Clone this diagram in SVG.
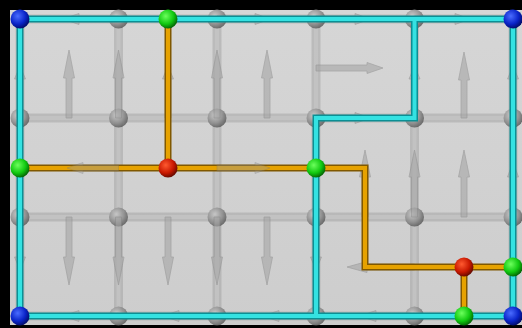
<svg xmlns="http://www.w3.org/2000/svg" width="522" height="328" viewBox="0 0 522 328">
<defs>
<linearGradient id="panel" x1="0" y1="0" x2="0" y2="1"><stop offset="0" stop-color="#d6d6d6"/><stop offset="1" stop-color="#cdcdcd"/></linearGradient>
<radialGradient id="gGray" cx="0.38" cy="0.35" r="0.7"><stop offset="0" stop-color="#c8c8c8"/><stop offset="0.6" stop-color="#8a8a8a"/><stop offset="1" stop-color="#555"/></radialGradient>
<radialGradient id="gBlue" cx="0.38" cy="0.35" r="0.7"><stop offset="0" stop-color="#4a6cff"/><stop offset="0.6" stop-color="#0a24c8"/><stop offset="1" stop-color="#020a60"/></radialGradient>
<radialGradient id="gGreen" cx="0.38" cy="0.35" r="0.7"><stop offset="0" stop-color="#6cff5c"/><stop offset="0.6" stop-color="#10c810"/><stop offset="1" stop-color="#045a04"/></radialGradient>
<radialGradient id="gRed" cx="0.38" cy="0.35" r="0.7"><stop offset="0" stop-color="#ff5a30"/><stop offset="0.6" stop-color="#c81800"/><stop offset="1" stop-color="#5a0800"/></radialGradient>
</defs>
<style>
.bar{fill:none;stroke:#9c9c9c;stroke-width:9;opacity:0.45}
.barIn{fill:none;stroke:#c6c6c6;stroke-width:4;opacity:0.7}
.arr{fill:#a6a6a6;stroke:#888;stroke-width:0.8;opacity:0.6}
.arrT{fill:#9a9a9a;stroke:#777;stroke-width:0.8;opacity:0.4}
.cyO{fill:none;stroke:#0b8f94;stroke-width:7;stroke-linejoin:miter}
.cyI{fill:none;stroke:#34e2e2;stroke-width:4;stroke-linejoin:miter}
.orO{fill:none;stroke:#805800;stroke-width:7;stroke-linejoin:miter}
.orI{fill:none;stroke:#e6a200;stroke-width:4;stroke-linejoin:miter}
.ng{fill:url(#gGray);opacity:0.85}
.nb{fill:url(#gBlue)}
.ngr{fill:url(#gGreen)}
.nr{fill:url(#gRed)}
</style>
<rect x="0" y="0" width="522" height="328" fill="#000"/>
<rect x="10" y="10" width="512" height="315" fill="url(#panel)"/>
<g id="grid">
<path class="bar" d="M20,19H513M20,118H513M20,217H513M20,316H513M20,19V316M118.5,19V316M217,19V316M316,19V316M414.5,19V316M513,19V316"/>
<path class="barIn" d="M20,19H513M20,118H513M20,217H513M20,316H513M20,19V316M118.5,19V316M217,19V316M316,19V316M414.5,19V316M513,19V316"/>
</g>
<g id="gray-nodes">
<g id="n-1-0"><circle class="ng" cx="118.5" cy="19" r="9.5"/></g>
<g id="n-2-0"><circle class="ng" cx="217" cy="19" r="9.5"/></g>
<g id="n-3-0"><circle class="ng" cx="316" cy="19" r="9.5"/></g>
<g id="n-4-0"><circle class="ng" cx="414.5" cy="19" r="9.5"/></g>
<g id="n-0-1"><circle class="ng" cx="20" cy="118" r="9.5"/></g>
<g id="n-1-1"><circle class="ng" cx="118.5" cy="118" r="9.5"/></g>
<g id="n-2-1"><circle class="ng" cx="217" cy="118" r="9.5"/></g>
<g id="n-3-1"><circle class="ng" cx="316" cy="118" r="9.5"/></g>
<g id="n-4-1"><circle class="ng" cx="414.5" cy="118" r="9.5"/></g>
<g id="n-5-1"><circle class="ng" cx="513" cy="118" r="9.5"/></g>
<g id="n-0-2"><circle class="ng" cx="20" cy="217" r="9.5"/></g>
<g id="n-1-2"><circle class="ng" cx="118.5" cy="217" r="9.5"/></g>
<g id="n-2-2"><circle class="ng" cx="217" cy="217" r="9.5"/></g>
<g id="n-3-2"><circle class="ng" cx="316" cy="217" r="9.5"/></g>
<g id="n-4-2"><circle class="ng" cx="414.5" cy="217" r="9.5"/></g>
<g id="n-5-2"><circle class="ng" cx="513" cy="217" r="9.5"/></g>
<g id="n-1-3"><circle class="ng" cx="118.5" cy="316" r="9.5"/></g>
<g id="n-2-3"><circle class="ng" cx="217" cy="316" r="9.5"/></g>
<g id="n-3-3"><circle class="ng" cx="316" cy="316" r="9.5"/></g>
<g id="n-4-3"><circle class="ng" cx="414.5" cy="316" r="9.5"/></g>
</g>
<g id="arrows">
<path class="arr" d="M66,118L66,78L63.5,78L69,50L74.5,78L72,78L72,118Z"/>
<path class="arr" d="M115.5,118L115.5,78L113,78L118.5,50L124,78L121.5,78L121.5,118Z"/>
<path class="arr" d="M214,118L214,78L211.5,78L217,50L222.5,78L220,78L220,118Z"/>
<path class="arr" d="M264,118L264,78L261.5,78L267,50L272.5,78L270,78L270,118Z"/>
<path class="arr" d="M461,118L461,80L458.5,80L464,52L469.5,80L467,80L467,118Z"/>
<path class="arr" d="M17,118L17,79L14.5,79L20,66L25.5,79L23,79L23,118Z"/>
<path class="arr" d="M165,118L165,79L162.5,79L168,66L173.5,79L171,79L171,118Z"/>
<path class="arr" d="M411.5,118L411.5,79L409,79L414.5,66L420,79L417.5,79L417.5,118Z"/>
<path class="arr" d="M510,118L510,79L507.5,79L513,66L518.5,79L516,79L516,118Z"/>
<path class="arr" d="M316,65L367,65L367,62.5L383,68L367,73.5L367,71L316,71Z"/>
<path class="arr" d="M362,217L362,177L359.5,177L365,150L370.5,177L368,177L368,217Z"/>
<path class="arr" d="M411.5,217L411.5,177L409,177L414.5,150L420,177L417.5,177L417.5,217Z"/>
<path class="arr" d="M461,217L461,177L458.5,177L464,150L469.5,177L467,177L467,217Z"/>
<path class="arr" d="M510,217L510,177L507.5,177L513,162L518.5,177L516,177L516,217Z"/>
<path class="arr" d="M66,217L66,257L63.5,257L69,285L74.5,257L72,257L72,217Z"/>
<path class="arr" d="M115.5,217L115.5,257L113,257L118.5,285L124,257L121.5,257L121.5,217Z"/>
<path class="arr" d="M165,217L165,257L162.5,257L168,285L173.5,257L171,257L171,217Z"/>
<path class="arr" d="M214,217L214,257L211.5,257L217,285L222.5,257L220,257L220,217Z"/>
<path class="arr" d="M264,217L264,257L261.5,257L267,285L272.5,257L270,257L270,217Z"/>
<path class="arr" d="M17,217L17,257L14.5,257L20,270L25.5,257L23,257L23,217Z"/>
<path class="arr" d="M313,217L313,257L310.5,257L316,270L321.5,257L319,257L319,217Z"/>
<path class="arr" d="M118.5,16L79,16L79,13.5L63,19L79,24.5L79,22L118.5,22Z"/>
<path class="arr" d="M217,16L255,16L255,13.5L270,19L255,24.5L255,22L217,22Z"/>
<path class="arr" d="M316,16L355,16L355,13.5L370,19L355,24.5L355,22L316,22Z"/>
<path class="arr" d="M414.5,16L455,16L455,13.5L470,19L455,24.5L455,22L414.5,22Z"/>
<path class="arr" d="M316,115L355,115L355,112.5L370,118L355,123.5L355,121L316,121Z"/>
<path class="arr" d="M414.5,264L367,264L367,261.5L347,267L367,272.5L367,270L414.5,270Z"/>
<path class="arr" d="M118.5,313L79,313L79,310.5L63,316L79,321.5L79,319L118.5,319Z"/>
<path class="arr" d="M217,313L179,313L179,310.5L163,316L179,321.5L179,319L217,319Z"/>
<path class="arr" d="M316,313L279,313L279,310.5L263,316L279,321.5L279,319L316,319Z"/>
<path class="arr" d="M414.5,313L376,313L376,310.5L360,316L376,321.5L376,319L414.5,319Z"/>
</g>
<g id="connectors">
<path class="cyO" d="M20,19H513V316H20ZM316,316V118H414.5V19"/>
<path class="cyI" d="M20,19H513V316H20ZM316,316V118H414.5V19"/>
<path class="orO" d="M168,19V168M20,168H365V267H513M464,267V316"/>
<path class="orI" d="M168,19V168M20,168H365V267H513M464,267V316"/>
</g>
<g id="arrows-over">
<path class="arrT" d="M118.5,165L83,165L83,162.5L67,168L83,173.5L83,171L118.5,171Z"/>
<path class="arrT" d="M217,165L255,165L255,162.5L270,168L255,173.5L255,171L217,171Z"/>
</g>
<g id="n-blue-tl"><circle class="nb" cx="20" cy="19" r="9.5"/></g>
<g id="n-blue-tr"><circle class="nb" cx="513" cy="19" r="9.5"/></g>
<g id="n-blue-bl"><circle class="nb" cx="20" cy="316" r="9.5"/></g>
<g id="n-blue-br"><circle class="nb" cx="513" cy="316" r="9.5"/></g>
<g id="n-green-top"><circle class="ngr" cx="168" cy="19" r="9.5"/></g>
<g id="n-green-left"><circle class="ngr" cx="20" cy="168" r="9.5"/></g>
<g id="n-green-mid"><circle class="ngr" cx="316" cy="168" r="9.5"/></g>
<g id="n-green-right"><circle class="ngr" cx="513" cy="267" r="9.5"/></g>
<g id="n-green-bottom"><circle class="ngr" cx="464" cy="316" r="9.5"/></g>
<g id="n-red-1"><circle class="nr" cx="168" cy="168" r="9.5"/></g>
<g id="n-red-2"><circle class="nr" cx="464" cy="267" r="9.5"/></g>
</svg>
